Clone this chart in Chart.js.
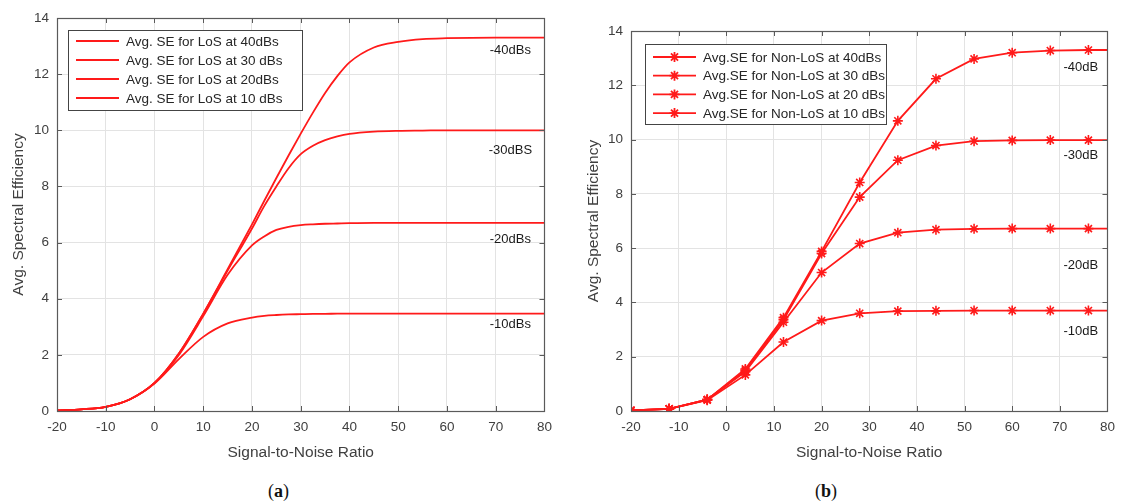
<!DOCTYPE html>
<html>
<head>
<meta charset="utf-8">
<script src="https://cdn.jsdelivr.net/npm/chart.js@4.4.0/dist/chart.umd.min.js"></script>
<style>
html,body{margin:0;padding:0;background:#fff;}
#wrap{position:relative;width:1123px;height:503px;overflow:hidden;}
.pane{position:absolute;top:0;height:470px;}
#pa{left:0;width:560px;}
#pb{left:560px;width:563px;}
.cap{position:absolute;top:481px;font-family:"Liberation Serif","Times New Roman",serif;font-size:18px;color:#111;}
</style>
</head>
<body>
<div id="wrap">
  <div class="pane" id="pa"><canvas id="chartLoS"></canvas></div>
  <div class="pane" id="pb"><canvas id="chartNLoS"></canvas></div>
  <div class="cap" style="left:268px">(<b>a</b>)</div>
  <div class="cap" style="left:815px">(<b>b</b>)</div>
</div>
<script>
// (a) LoS - smooth curves
const snrLoS  = [-20,-15,-10,-5,0,5,10,15,20,22.5,25,27.5,30,32.5,35,37.5,40,45,50,55,60,70,80];
const losAt40 = [0.02,0.06,0.15,0.42,1.0,2.05,3.47,5.05,6.65,7.48,8.3,9.1,9.88,10.63,11.33,11.93,12.42,12.95,13.15,13.25,13.28,13.3,13.3];
const losAt30 = [0.02,0.06,0.15,0.42,1.0,2.05,3.46,5.0,6.5,7.3,8.0,8.65,9.15,9.45,9.65,9.78,9.87,9.95,9.98,9.99,10.0,10.0,10.0];
const losAt20 = [0.02,0.06,0.15,0.42,1.0,2.0,3.38,4.85,5.9,6.22,6.45,6.56,6.62,6.65,6.67,6.68,6.69,6.7,6.7,6.7,6.7,6.7,6.7];
const losAt10 = [0.02,0.06,0.15,0.42,0.98,1.85,2.64,3.12,3.33,3.39,3.42,3.44,3.45,3.46,3.46,3.47,3.47,3.47,3.47,3.47,3.47,3.47,3.47];
const losNames = ['Avg. SE for LoS at 40dBs','Avg. SE for LoS at 30 dBs','Avg. SE for LoS at 20dBs','Avg. SE for LoS at 10 dBs'];
const losTags  = ['-40dBs','-30dBS','-20dBs','-10dBs'];

// (b) Non-LoS - marked every 8 dB
const snrNLoS  = [-20,-12,-4,4,12,20,28,36,44,52,60,68,76,80];
const nlosAt40 = [0.02,0.08,0.42,1.55,3.44,5.88,8.42,10.69,12.24,12.97,13.2,13.28,13.3,13.3];
const nlosAt30 = [0.02,0.08,0.42,1.5,3.36,5.8,7.88,9.24,9.78,9.94,9.97,9.98,9.98,9.98];
const nlosAt20 = [0.02,0.08,0.42,1.45,3.27,5.1,6.17,6.57,6.68,6.71,6.72,6.72,6.72,6.72];
const nlosAt10 = [0.02,0.08,0.4,1.33,2.54,3.33,3.6,3.68,3.69,3.7,3.7,3.7,3.7,3.7];
const nlosNames = ['Avg.SE for Non-LoS at 40dBs','Avg.SE for Non-LoS at 30 dBs','Avg.SE for Non-LoS at 20 dBs','Avg.SE for Non-LoS at 10 dBs'];
const nlosTags  = ['-40dB','-30dB','-20dB','-10dB'];

const red = '#ff1a1a';
const axisGray = '#5a5a5a';
const gridGray = '#e3e3e3';
const fontFam = '"Liberation Sans", Arial, sans-serif';

Chart.defaults.font.family = fontFam;
Chart.defaults.color = '#404040';

const toXY = (xs, ys) => xs.map((x, i) => ({x, y: ys[i]}));

// MATLAB-ish frame: box + inward ticks on all four sides
const framePlugin = {
  id: 'frame',
  afterDatasetsDraw(chart) {
    const {ctx, chartArea: a, scales} = chart;
    ctx.save();
    ctx.strokeStyle = axisGray;
    ctx.lineWidth = 1;
    ctx.beginPath();
    scales.x.ticks.forEach(t => {
      const px = Math.round(scales.x.getPixelForValue(t.value)) + 0.5;
      ctx.moveTo(px, a.bottom); ctx.lineTo(px, a.bottom - 5);
      ctx.moveTo(px, a.top); ctx.lineTo(px, a.top + 5);
    });
    scales.y.ticks.forEach(t => {
      const py = Math.round(scales.y.getPixelForValue(t.value)) + 0.5;
      ctx.moveTo(a.left, py); ctx.lineTo(a.left + 5, py);
      ctx.moveTo(a.right, py); ctx.lineTo(a.right - 5, py);
    });
    ctx.stroke();
    ctx.lineWidth = 1.2;
    ctx.strokeRect(Math.round(a.left) + 0.5, Math.round(a.top) + 0.5, Math.round(a.right - a.left), Math.round(a.bottom - a.top));
    ctx.restore();
  }
};

// level tags next to each curve, placed in data units
const tagPlugin = {
  id: 'tags',
  afterDatasetsDraw(chart, args, opts) {
    const {ctx, scales} = chart;
    ctx.save();
    ctx.font = '13px ' + fontFam;
    ctx.fillStyle = '#1a1a1a';
    ctx.textAlign = 'center';
    ctx.textBaseline = 'middle';
    opts.text.forEach((t, i) => {
      ctx.fillText(t, scales.x.getPixelForValue(opts.x), scales.y.getPixelForValue(opts.y[i]));
    });
    ctx.restore();
  }
};

// legend box inside the axes
const boxLegendPlugin = {
  id: 'boxLegend',
  afterDraw(chart, args, opts) {
    const {ctx, chartArea: a} = chart;
    const x0 = a.left + opts.dx, y0 = a.top + opts.dy;
    ctx.save();
    ctx.fillStyle = '#fff';
    ctx.fillRect(x0, y0, opts.w, opts.h);
    ctx.strokeStyle = '#444';
    ctx.lineWidth = 1;
    ctx.strokeRect(x0 + 0.5, y0 + 0.5, opts.w, opts.h);
    ctx.font = '13.5px ' + fontFam;
    ctx.textBaseline = 'middle';
    chart.data.datasets.forEach((ds, i) => {
      const yy = y0 + opts.first + i * opts.row;
      const lx = x0 + 8;
      ctx.strokeStyle = ds.borderColor;
      ctx.lineWidth = 1.8;
      ctx.beginPath();
      ctx.moveTo(lx, yy); ctx.lineTo(lx + opts.line, yy);
      ctx.stroke();
      if (opts.marker) {
        Chart.helpers.drawPoint(ctx, {pointStyle: 'star', radius: 5, borderWidth: 1.6}, lx + opts.line / 2, yy);
      }
      ctx.fillStyle = '#262626';
      ctx.fillText(ds.label, lx + opts.line + 7, yy + 1);
    });
    ctx.restore();
  }
};

function baseScales(yWidth, yTitleGap) {
  return {
    x: {
      type: 'linear', min: -20, max: 80,
      afterFit: s => { s.height = 59; },
      grid: { color: gridGray, drawTicks: false },
      border: { display: false },
      ticks: { stepSize: 10, padding: 8, font: { size: 13.5 }, color: '#404040' },
      title: { display: true, text: 'Signal-to-Noise Ratio', font: { size: 15.5 }, color: '#404040', padding: { top: 4, bottom: 8 } }
    },
    y: {
      min: 0, max: 14,
      afterFit: s => { s.width = yWidth; },
      grid: { color: gridGray, drawTicks: false },
      border: { display: false },
      ticks: { stepSize: 2, padding: 8, font: { size: 13.5 }, color: '#404040' },
      title: { display: true, text: 'Avg. Spectral Efficiency', font: { size: 15.5 }, color: '#404040', padding: { top: yTitleGap, bottom: 0 } }
    }
  };
}

const losSeries = [losAt40, losAt30, losAt20, losAt10];
new Chart(document.getElementById('chartLoS'), {
  type: 'line',
  data: {
    datasets: losSeries.map((ys, i) => ({
      label: losNames[i], data: toXY(snrLoS, ys),
      borderColor: red, borderWidth: 1.8, pointRadius: 0,
      cubicInterpolationMode: 'monotone', fill: false
    }))
  },
  options: {
    responsive: true, maintainAspectRatio: false, animation: false,
    layout: { padding: { top: 18, right: 7, left: 0, bottom: 0 } },
    scales: baseScales(57, 9),
    plugins: {
      legend: { display: false }, tooltip: { enabled: false },
      tags: { text: losTags, x: 73, y: [12.83, 9.29, 6.13, 3.07] },
      boxLegend: { dx: 11, dy: 12, w: 234, h: 80, first: 11, row: 19, line: 43, marker: false }
    }
  },
  plugins: [framePlugin, tagPlugin, boxLegendPlugin]
});

const nlosSeries = [nlosAt40, nlosAt30, nlosAt20, nlosAt10];
const lastIdx = snrNLoS.length - 1;
new Chart(document.getElementById('chartNLoS'), {
  type: 'line',
  data: {
    datasets: nlosSeries.map((ys, i) => ({
      label: nlosNames[i], data: toXY(snrNLoS, ys),
      borderColor: red, borderWidth: 1.8, tension: 0, fill: false,
      pointStyle: 'star', pointBorderColor: red, pointBorderWidth: 1.6,
      pointRadius: c => c.dataIndex === lastIdx ? 0 : 5
    }))
  },
  options: {
    responsive: true, maintainAspectRatio: false, animation: false,
    layout: { padding: { top: 31, right: 11, left: 0, bottom: 0 } },
    scales: baseScales(71, 24),
    plugins: {
      legend: { display: false }, tooltip: { enabled: false },
      tags: { text: nlosTags, x: 74.4, y: [12.64, 9.43, 5.38, 2.95] },
      boxLegend: { dx: 14, dy: 13, w: 241, h: 80, first: 13, row: 18.7, line: 43, marker: true }
    }
  },
  plugins: [framePlugin, tagPlugin, boxLegendPlugin]
});
</script>
</body>
</html>
